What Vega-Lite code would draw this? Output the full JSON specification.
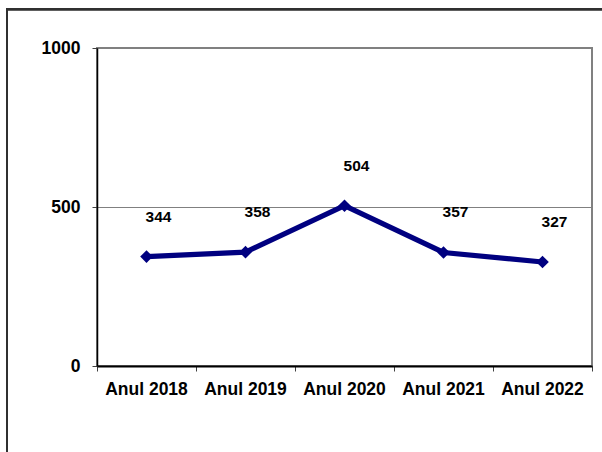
{
  "$schema": "https://vega.github.io/schema/vega-lite/v6.json",
  "width": 495,
  "height": 318,
  "autosize": {"type": "none"},
  "padding": {"left": 97, "top": 48, "right": 10, "bottom": 86},
  "background": "white",
  "config": {
    "view": {"stroke": "#808080", "strokeWidth": 2},
    "font": "Liberation Sans"
  },
  "data": {
    "values": [
      {"an": "Anul 2018", "valoare": 344},
      {"an": "Anul 2019", "valoare": 358},
      {"an": "Anul 2020", "valoare": 504},
      {"an": "Anul 2021", "valoare": 357},
      {"an": "Anul 2022", "valoare": 327}
    ]
  },
  "resolve": {"scale": {"x": "independent"}, "axis": {"x": "independent"}},
  "layer": [
    {
      "mark": {"type": "rect", "fill": "white", "fillOpacity": 0, "stroke": "#303030", "strokeWidth": 2, "clip": false},
      "encoding": {
        "x": {"datum": -90, "type": "quantitative", "scale": {"domain": [0, 495], "nice": false, "zero": false}, "axis": null},
        "x2": {"datum": 700},
        "y": {"datum": 1122},
        "y2": {"datum": -700}
      }
    },
    {
      "layer": [
        {
          "mark": {"type": "line", "color": "#000080", "strokeWidth": 5.2, "point": {"shape": "diamond", "size": 160, "filled": true, "color": "#000080", "opacity": 1}},
          "encoding": {
            "x": {
              "field": "an", "type": "nominal", "sort": null, "bandPosition": 0.5,
              "scale": {"type": "band", "paddingInner": 0, "paddingOuter": 0},
              "axis": {
                "title": null, "labelAngle": 0, "bandPosition": 1, "tickExtra": true,
                "labelFont": "Liberation Sans", "labelFontWeight": "bold",
                "labelFontSize": 17.5, "labelColor": "black", "labelPadding": 9,
                "domainColor": "black", "domainWidth": 2, "tickColor": "#404040", "tickWidth": 1, "tickSize": 5,
                "grid": false
              }
            },
            "y": {
              "field": "valoare", "type": "quantitative",
              "scale": {"domain": [0, 1000], "nice": false},
              "axis": {
                "title": null, "values": [0, 500, 1000], "format": "d", "labelFont": "Liberation Sans", "labelFontWeight": "bold",
                "labelFontSize": 17.5, "labelColor": "black", "labelPadding": 12,
                "domainColor": "black", "domainWidth": 1.5, "tickColor": "#404040", "tickWidth": 1, "tickSize": 5,
                "grid": true, "gridColor": "#808080", "gridWidth": 1, "gridOpacity": 1
              }
            }
          }
        },
        {
          "mark": {"type": "text", "font": "Liberation Sans", "fontWeight": "bold", "fontSize": 15.5, "color": "black", "dx": 12, "dy": -40},
          "encoding": {
            "x": {"field": "an", "type": "nominal", "sort": null, "bandPosition": 0.5},
            "y": {"field": "valoare", "type": "quantitative"},
            "text": {"field": "valoare", "type": "quantitative"}
          }
        }
      ]
    }
  ]
}
